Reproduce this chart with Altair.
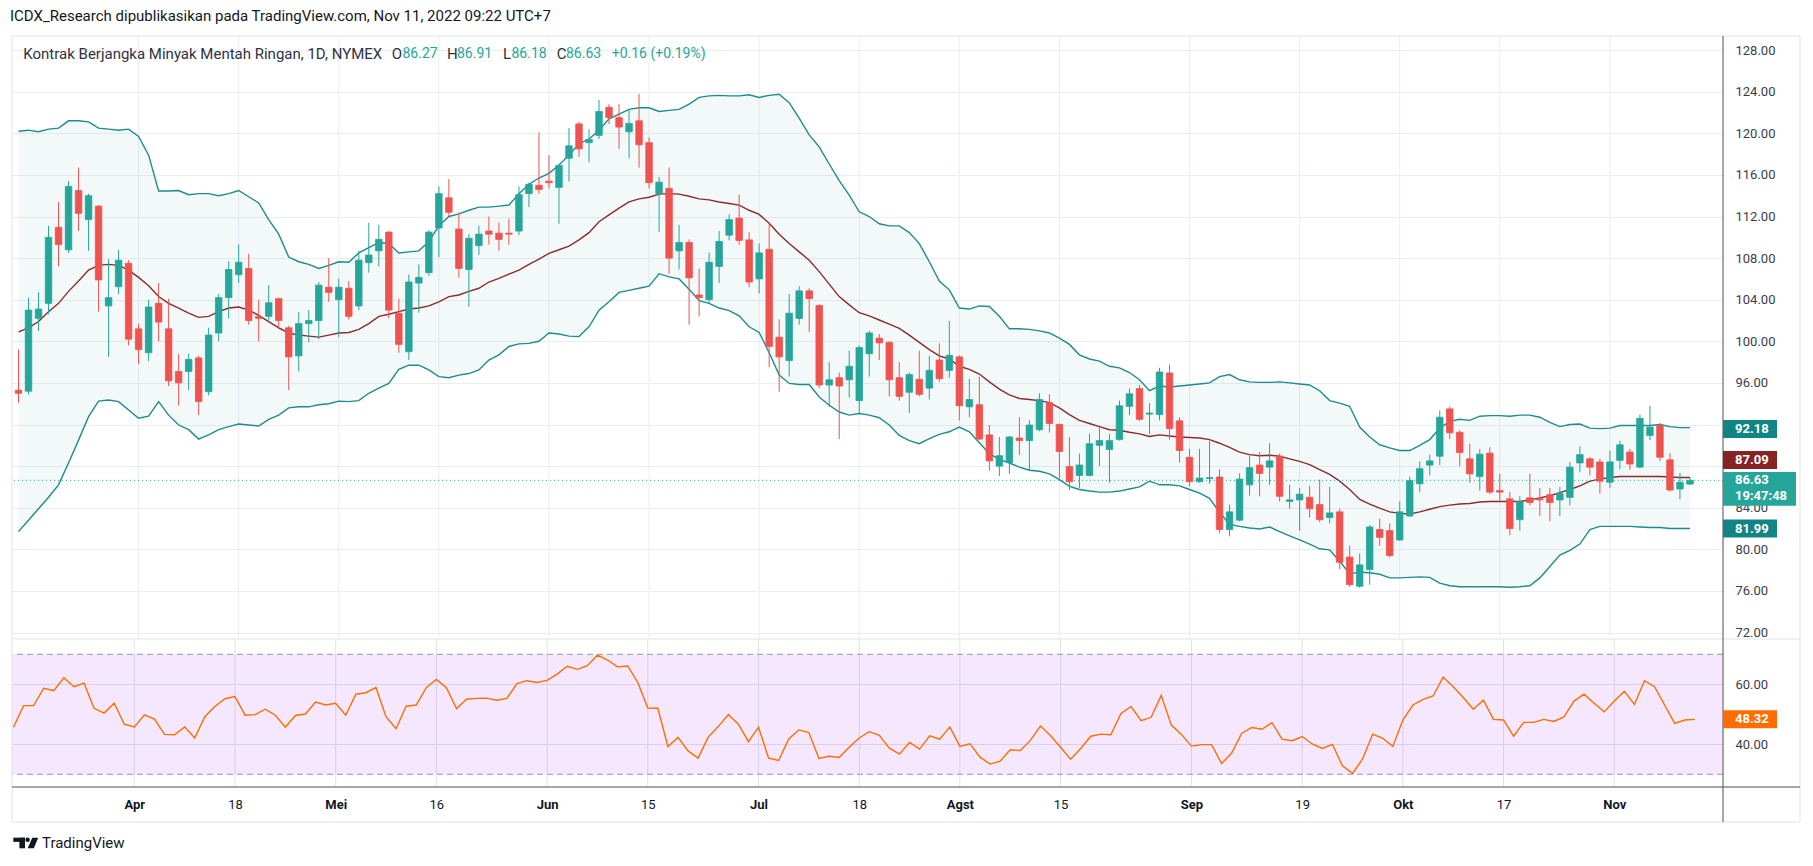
import json
import altair as alt
import pandas as pd

# ---------------- data ----------------
# bar number: 0 = 1 Apr 2022, one step per trading day (16 Mar .. 11 Nov 2022)
bar = list(range(-12, 156))

open_ = [
    95.3, 95.2, 102.2, 103.65, 110.96, 108.8, 114.5, 111.7, 113.0, 103.4,
    105.25, 107.5, 101.2, 98.9, 103.65, 101.2, 97.1, 97.1, 98.4, 95.15,
    100.8, 104.2, 106.4, 107.0, 102.4, 102.4, 104.1, 101.3, 98.6, 101.7,
    102.0, 105.2, 104.0, 105.1, 103.4, 107.56, 108.7, 110.5, 102.7, 99.0,
    105.6, 106.6, 110.9, 113.8, 110.8, 106.9, 109.2, 110.6, 110.4, 110.4,
    110.6, 114.2, 115.0, 115.4, 114.8, 117.6, 120.9, 119.1, 119.8, 122.5,
    121.5, 120.15, 121.2, 119.1, 114.2, 114.7, 108.7, 109.5, 104.45, 104.0,
    107.2, 110.2, 111.85, 109.75, 106.0, 108.85, 100.4, 98.15, 102.2, 104.85,
    103.45, 95.8, 96.5, 96.3, 94.3, 98.8, 100.3, 99.9, 96.5, 95.1,
    96.35, 95.5, 98.2, 97.2, 98.5, 93.7, 93.9, 91.0, 88.0, 88.35,
    90.7, 90.45, 91.5, 94.1, 92.0, 87.95, 87.1, 87.1, 90.0, 89.6,
    90.55, 93.75, 95.45, 93.0, 92.95, 96.95, 92.35, 88.85, 86.5, 86.8,
    86.95, 81.9, 82.8, 86.2, 88.1, 87.9, 88.95, 84.6, 84.75, 85.0,
    84.3, 83.05, 83.6, 79.25, 76.45, 78.05, 81.9, 81.8, 80.9, 83.2,
    86.3, 88.1, 88.95, 93.5, 91.25, 88.7, 87.0, 89.25, 85.65, 84.85,
    82.85, 84.95, 84.85, 85.25, 84.75, 85.0, 88.3, 88.7, 88.4, 86.45,
    88.55, 89.35, 87.9, 90.95, 91.9, 88.6, 85.8, 86.27,
]
high = [
    99.2, 104.2, 104.7, 111.1, 113.4, 115.4, 116.7, 114.2, 113.1, 107.9,
    108.8, 107.8, 101.7, 104.0, 105.6, 104.1, 98.8, 98.8, 98.6, 101.3,
    104.55, 107.7, 109.3, 108.4, 104.0, 105.4, 104.2, 101.5, 102.8, 103.0,
    105.7, 108.0, 106.0, 105.8, 108.7, 111.4, 111.2, 110.6, 104.1, 106.4,
    107.4, 110.7, 114.9, 115.6, 112.4, 110.3, 111.1, 112.0, 111.4, 111.8,
    114.9, 115.25, 120.1, 117.9, 117.0, 120.5, 121.1, 120.4, 123.2, 122.8,
    122.8, 122.3, 123.8, 119.6, 115.8, 116.7, 111.2, 109.8, 107.0, 108.55,
    110.6, 112.2, 114.1, 110.5, 109.4, 111.4, 102.1, 104.55, 105.3, 105.1,
    103.55, 98.0, 97.0, 99.1, 99.6, 101.0, 100.7, 100.0, 98.0, 97.0,
    99.1, 98.6, 99.8, 101.95, 98.65, 96.4, 96.6, 91.95, 90.8, 90.9,
    92.7, 92.4, 95.0, 94.9, 92.1, 90.8, 89.2, 91.1, 91.7, 91.1,
    94.3, 95.45, 95.8, 94.05, 97.45, 97.75, 92.7, 89.65, 89.65, 90.4,
    87.7, 84.3, 87.3, 89.1, 89.35, 90.2, 89.2, 86.2, 85.9, 86.1,
    86.7, 86.0, 83.9, 80.35, 79.6, 82.35, 82.95, 82.5, 84.6, 87.0,
    88.45, 89.1, 93.35, 93.75, 91.45, 90.15, 89.65, 89.8, 87.25, 85.5,
    85.1, 87.25, 85.9, 85.9, 86.0, 88.4, 89.9, 88.85, 88.7, 89.5,
    90.45, 89.65, 92.95, 93.8, 92.15, 89.25, 87.35, 86.91,
]
low = [
    94.1, 94.9, 101.0, 102.6, 107.2, 108.5, 110.6, 108.7, 102.85, 98.5,
    104.55, 99.6, 97.8, 98.1, 100.0, 95.7, 93.8, 95.3, 92.9, 94.8,
    100.0, 102.2, 105.6, 101.6, 100.0, 102.0, 101.15, 95.3, 97.1, 99.9,
    100.2, 103.8, 100.4, 102.1, 103.0, 106.6, 107.2, 102.2, 98.9, 98.2,
    102.75, 106.3, 108.1, 111.9, 106.1, 103.3, 108.3, 109.3, 108.7, 109.3,
    110.2, 112.9, 114.2, 114.7, 111.3, 115.35, 117.75, 117.2, 119.45, 120.9,
    118.5, 117.6, 116.7, 114.7, 110.5, 106.5, 106.9, 101.6, 102.4, 103.7,
    105.6, 109.7, 109.3, 105.2, 104.6, 97.5, 95.15, 96.6, 101.6, 100.9,
    95.5, 93.7, 90.6, 94.6, 93.1, 96.6, 98.2, 94.7, 94.3, 93.1,
    94.7, 94.4, 96.1, 96.5, 92.4, 92.7, 90.5, 87.55, 87.05, 87.25,
    89.05, 87.6, 91.35, 91.25, 86.85, 85.7, 85.9, 87.0, 88.0, 86.4,
    90.45, 92.9, 92.35, 91.1, 92.4, 90.55, 88.35, 86.05, 86.4, 86.3,
    81.55, 81.25, 82.7, 85.15, 85.1, 86.2, 84.6, 83.9, 81.8, 83.05,
    82.6, 82.5, 78.1, 76.4, 76.3, 76.6, 80.35, 79.2, 80.8, 83.1,
    85.5, 87.1, 88.1, 90.6, 88.0, 86.4, 85.65, 85.3, 84.6, 81.35,
    81.8, 84.2, 83.2, 82.7, 83.2, 84.2, 87.4, 87.1, 85.35, 85.9,
    87.7, 87.65, 87.8, 90.5, 88.5, 85.55, 84.8, 86.18,
]
close = [
    95.0, 103.0, 103.1, 110.0, 109.3, 114.9, 112.3, 114.0, 105.9, 104.2,
    107.8, 100.2, 99.2, 103.3, 101.85, 96.2, 96.0, 98.26, 94.2, 100.6,
    104.2, 106.9, 107.6, 102.0, 102.2, 103.7, 102.0, 98.5, 101.7, 102.0,
    105.4, 104.7, 105.2, 102.4, 107.8, 108.3, 109.8, 103.0, 99.7, 105.7,
    106.15, 110.5, 114.2, 112.4, 107.0, 109.9, 110.3, 110.3, 109.8, 110.3,
    114.1, 115.1, 114.6, 115.25, 116.9, 118.8, 118.5, 119.4, 122.1, 121.5,
    120.6, 120.95, 118.9, 115.25, 115.3, 108.0, 109.5, 106.1, 104.2, 107.6,
    109.6, 111.7, 109.7, 105.7, 108.5, 99.5, 98.5, 102.7, 104.85, 104.1,
    95.8, 96.3, 95.7, 97.6, 99.4, 100.8, 99.85, 96.3, 94.7, 96.8,
    94.9, 97.2, 96.4, 98.65, 93.8, 94.4, 90.6, 88.5, 89.0, 90.8,
    90.45, 91.95, 94.4, 92.1, 89.4, 86.5, 88.1, 90.15, 90.45, 90.45,
    93.8, 94.95, 92.5, 93.1, 97.05, 91.6, 89.5, 86.5, 86.85, 86.9,
    81.9, 83.6, 86.75, 87.85, 87.3, 88.5, 85.1, 84.75, 85.3, 83.9,
    82.85, 83.5, 78.75, 76.6, 78.5, 82.15, 81.15, 79.4, 83.6, 86.6,
    87.75, 88.5, 92.7, 91.2, 89.3, 87.25, 89.15, 85.5, 85.5, 82.0,
    84.6, 84.5, 84.75, 84.5, 85.35, 87.9, 89.1, 87.9, 86.55, 88.4,
    90.05, 88.2, 92.6, 91.75, 88.85, 85.7, 86.45, 86.63,
]
bb_upper = [
    120.2, 120.3, 120.15, 120.4, 120.5, 121.2, 121.2, 121.1, 120.5, 120.4,
    120.3, 120.4, 119.7, 117.9, 114.45, 114.45, 114.5, 114.1, 114.2, 114.2,
    114.0, 114.2, 114.5, 113.9, 113.3, 111.7, 110.3, 108.1, 107.65, 107.4,
    107.0, 107.3, 107.65, 107.6, 108.5, 109.0, 109.5, 109.4, 108.5, 108.6,
    108.7, 109.6, 111.1, 112.0, 112.25, 112.6, 112.9, 112.9, 113.0, 113.1,
    114.2, 115.1, 115.7, 116.15, 116.95, 117.9, 119.0, 119.45, 120.3, 121.4,
    121.85, 122.3, 122.45, 122.45, 122.1, 122.2, 122.3, 122.8, 123.45, 123.6,
    123.65, 123.6, 123.6, 123.7, 123.45, 123.65, 123.75, 122.95, 121.45, 119.85,
    118.7, 117.05, 115.45, 114.05, 112.45, 112.0, 111.3, 111.1, 111.1, 110.45,
    109.4, 107.65, 105.8, 104.95, 103.2, 103.1, 103.4, 103.35, 102.4, 101.2,
    101.2, 101.15, 101.0, 100.8, 100.3, 99.7, 98.7, 98.3, 98.1, 97.6,
    97.45, 97.0, 96.3, 95.25, 95.7, 95.6, 95.7, 95.8, 95.9, 96.0,
    96.6, 96.8, 96.3, 96.1, 96.05, 96.05, 96.1, 96.0, 95.9, 95.8,
    95.25, 94.3, 94.05, 93.75, 91.75, 90.8, 90.05, 89.75, 89.5, 89.5,
    90.0, 90.55, 91.65, 92.3, 92.5, 92.4, 92.8, 92.85, 92.85, 92.8,
    92.9, 92.9, 92.7, 92.2, 91.8, 92.0, 92.05, 91.65, 91.6, 91.65,
    91.9, 91.9, 91.9, 91.9, 92.0, 91.8, 91.7, 91.7,
]
bb_basis = [
    100.9, 101.3, 101.9, 102.85, 103.65, 104.8, 105.8, 106.85, 107.3, 107.4,
    107.3, 106.85, 106.15, 105.35, 104.3, 103.65, 103.2, 102.7, 102.3, 102.4,
    102.85, 103.2, 103.3, 103.0, 102.5, 101.9, 101.3, 100.8, 100.6, 100.5,
    100.4, 100.6, 100.8, 100.85, 101.15, 101.7, 102.4, 102.6, 102.85, 103.1,
    103.2, 103.4, 103.8, 104.3, 104.45, 104.8, 105.1, 105.7, 106.05, 106.45,
    106.85, 107.4, 107.9, 108.45, 108.8, 109.15, 109.75, 110.45, 111.5, 112.15,
    112.8, 113.4, 113.7, 113.85, 114.15, 114.2, 114.15, 113.95, 113.7, 113.6,
    113.4, 113.25, 113.1, 112.6, 112.2, 111.35, 110.3, 109.4, 108.6, 107.8,
    106.7, 105.5, 104.3, 103.5, 102.75, 102.45, 102.05, 101.65, 101.25, 100.6,
    99.9, 99.2, 98.6, 98.3, 97.6, 97.3, 96.85, 96.1, 95.4, 94.85,
    94.5, 94.4, 94.3, 94.1, 93.6, 92.95, 92.4, 92.1, 91.8, 91.5,
    91.45, 91.25, 91.1, 90.85, 91.0, 90.9, 90.8, 90.75, 90.7, 90.55,
    90.2, 89.8, 89.35, 89.1, 89.0, 89.05, 88.95, 88.7, 88.45, 88.15,
    87.65, 87.2, 86.55, 85.75, 84.8, 84.35, 83.95, 83.6, 83.45, 83.4,
    83.6, 83.85, 84.1, 84.25, 84.35, 84.4, 84.55, 84.6, 84.6, 84.6,
    84.6, 84.75, 84.95, 85.15, 85.45, 85.75, 86.1, 86.55, 86.75, 86.9,
    87.0, 87.0, 87.0, 87.0, 87.0, 86.95, 86.9, 86.9,
]
bb_lower = [
    81.7, 82.8, 83.9, 85.0, 86.2, 88.3, 90.5, 92.75, 94.25, 94.35,
    94.2, 93.4, 92.6, 92.8, 94.2, 92.9, 91.95, 91.5, 90.6, 91.0,
    91.5, 91.8, 92.05, 91.95, 91.85, 92.5, 92.9, 93.6, 93.7, 93.7,
    93.9, 94.0, 94.25, 94.2, 94.3, 95.0, 95.5, 95.95, 97.3, 97.7,
    97.7, 97.25, 96.6, 96.5, 96.75, 96.9, 97.25, 98.2, 98.7, 99.5,
    99.75, 99.8, 100.0, 100.8, 100.7, 100.5, 100.45, 101.4, 103.0, 103.8,
    104.7, 104.9, 105.1, 105.3, 106.5, 106.2, 106.0, 105.0, 103.9, 103.65,
    103.2, 102.95, 102.45, 101.4, 100.85, 98.9, 96.75, 95.95, 95.85, 95.85,
    94.65, 93.85, 93.2, 92.9, 93.05, 92.9, 92.65, 91.95, 90.95, 90.45,
    90.15, 90.65, 91.05, 91.3, 91.75, 91.3, 90.25, 89.2, 88.65, 88.3,
    87.9, 87.6, 87.5, 87.25, 86.7, 86.05, 85.75, 85.6, 85.5, 85.5,
    85.6, 85.8, 86.0, 86.55, 86.2, 86.2, 86.1, 85.75, 85.4, 84.9,
    83.55, 82.4, 82.2, 82.05, 81.95, 82.15, 81.7, 81.3, 80.9, 80.5,
    80.05, 79.95, 78.85, 77.65, 77.8, 77.75, 77.6, 77.25, 77.25, 77.3,
    77.35, 77.3, 76.75, 76.5, 76.4, 76.4, 76.4, 76.4, 76.4, 76.35,
    76.4, 76.5, 77.25, 78.35, 79.45, 79.9, 80.5, 81.9, 82.2, 82.2,
    82.2, 82.2, 82.15, 82.1, 82.1, 82.0, 82.0, 82.0,
]
rsi = [
    45.7, 52.9, 52.9, 58.7, 57.9, 62.2, 59.2, 60.4, 52.0, 50.4,
    53.7, 46.7, 45.8, 49.8, 48.4, 43.3, 43.2, 45.8, 42.1, 49.2,
    52.6, 55.2, 55.9, 49.7, 49.9, 51.7, 49.7, 45.7, 49.6, 50.1,
    54.1, 53.1, 53.7, 49.7, 56.7, 57.2, 58.9, 49.2, 45.2, 52.7,
    53.1, 58.9, 61.6, 58.9, 51.9, 55.0, 55.3, 55.4, 54.7, 55.3,
    60.2, 61.2, 60.6, 61.3, 63.4, 66.0, 65.0, 66.2, 69.7, 68.1,
    65.8, 66.1, 60.7, 52.1, 52.0, 39.2, 42.3, 37.8, 35.4, 42.4,
    45.9, 49.9, 46.7, 40.9, 45.7, 35.4, 34.6, 41.8, 44.8, 43.9,
    35.3, 36.0, 35.6, 39.0, 42.1, 44.2, 43.0, 38.7, 36.7, 40.6,
    38.4, 42.8, 41.7, 45.8, 39.3, 40.2, 35.7, 33.4, 34.4, 38.2,
    37.9, 41.3, 46.1, 42.9, 39.0, 35.0, 38.6, 42.7, 43.4, 43.2,
    50.3, 52.6, 47.9, 49.0, 56.3, 46.4, 43.3, 39.4, 39.9, 39.9,
    33.6, 37.1, 43.7, 45.6, 45.0, 47.2, 41.7, 41.2, 42.6, 40.1,
    38.6, 40.0, 32.8, 30.3, 35.1, 43.4, 42.0, 39.3, 48.1, 53.1,
    55.0, 56.1, 62.4, 59.2, 55.6, 51.7, 54.7, 48.3, 48.1, 42.7,
    47.3, 47.3, 48.3, 47.6, 49.1, 54.4, 56.7, 53.7, 50.8, 54.4,
    57.7, 53.3, 61.2, 59.2, 53.1, 47.0, 48.1, 48.32,
]

tick_pos = [0, 10, 20, 30, 41, 51, 62, 72, 82, 92, 105, 116, 126, 136, 147]
tick_lab = ["Apr", "18", "Mei", "16", "Jun", "15", "Jul", "18", "Agst", "15",
            "Sep", "19", "Okt", "17", "Nov"]
month_pos = [0, 20, 41, 62, 82, 105, 126, 147]
price_ticks = [72, 76, 80, 84, 88, 92, 96, 100, 104, 108, 112, 116, 120, 124, 128]
hidden_price_labels = [88, 92]      # covered by the value tags in the picture
rsi_ticks = [40, 60]
rsi_band = [30, 70]

header = "ICDX_Research dipublikasikan pada TradingView.com, Nov 11, 2022 09:22 UTC+7"
symbol = "Kontrak Berjangka Minyak Mentah Ringan, 1D, NYMEX"
change_txt = "+0.16 (+0.19%)"
tag_upper, tag_basis, tag_lower = 92.18, 87.09, 81.99
countdown = "19:47:48"

n = len(bar)
for arr in (open_, high, low, close, bb_upper, bb_basis, bb_lower, rsi):
    assert len(arr) == n, len(arr)

df = pd.DataFrame({"i": bar, "o": open_, "h": high, "l": low, "c": close,
                   "up": bb_upper, "mid": bb_basis, "lo": bb_lower, "rsi": rsi})
df["dir"] = ["up" if c >= o else "down" for o, c in zip(open_, close)]

# ---------------- style ----------------
FONT = "Roboto"
W, PH, RH = 1711, 603, 148
FR = 1788          # right frame edge (pane coords)
FB = 183           # bottom frame edge (rsi pane coords)
GREEN, RED = "#26a69a", "#ef5350"
BAND = "#1f8b8c"
BASIS = "#8b2b2b"
GRID = "#e9eef3"
FRAME = "#e0e3eb"
AXL = "#4a4e59"
TXT = "#131722"
LBL = "#3a3d48"
LEG = "#2f3241"

xs = alt.Scale(domain=[-12.15, 157.8], nice=False, zero=False)
ys = alt.Scale(domain=[71.375, 129.356], nice=False, zero=False)
rs = alt.Scale(domain=[25.767, 75.1], nice=False, zero=False)
dscale = alt.Scale(domain=["up", "down"], range=[GREEN, RED])

price_axis = alt.Axis(orient="right", values=price_ticks, title=None,
                      labelExpr=f"indexof({hidden_price_labels}, datum.value) >= 0 ? '' : format(datum.value, '.2f')",
                      grid=True, gridColor=GRID, domain=False, ticks=False, tickSize=0,
                      labelPadding=12, labelFont=FONT, labelFontSize=13, labelColor=LBL,
                      labelFlush=False, labelOverlap=False)
rsi_axis = alt.Axis(orient="right", values=rsi_ticks, format=".2f", title=None,
                    grid=True, gridColor=FRAME, domain=False, ticks=False, tickSize=0,
                    labelPadding=12, labelFont=FONT, labelFontSize=13, labelColor=LBL,
                    labelFlush=False, labelOverlap=False)
time_axis = alt.Axis(values=tick_pos, title=None, grid=False, domain=False, ticks=False,
                     tickSize=0, labelPadding=17, labelBaseline="middle",
                     labelFont=FONT, labelFontSize=13, labelColor=TXT,
                     labelFlush=False, labelOverlap=False,
                     labelExpr=f"{json.dumps(tick_lab)}[indexof({tick_pos}, datum.value)]",
                     labelFontWeight={"condition": {"test": f"indexof({month_pos}, datum.value) >= 0",
                                                    "value": "bold"}, "value": "normal"})


def PX(f):
    return alt.X(f, type="quantitative", scale=xs, axis=None)


def PY(f):
    return alt.Y(f, type="quantitative", scale=ys, axis=price_axis)


def RX(f):
    return alt.X(f, type="quantitative", scale=xs, axis=time_axis)


def RY(f):
    return alt.Y(f, type="quantitative", scale=rs, axis=rsi_axis)


DUMMY = pd.DataFrame({"k": [0]})


def hrule(y, x1, x2, color, w=1):
    return alt.Chart(DUMMY).mark_rule(color=color, strokeWidth=w).encode(
        x=alt.value(x1), x2=alt.value(x2), y=alt.value(y))


def vrule(x, y1, y2, color, w=1):
    return alt.Chart(DUMMY).mark_rule(color=color, strokeWidth=w).encode(
        x=alt.value(x), y=alt.value(y1), y2=alt.value(y2))


def box(x1, x2, y1, y2, color):
    return alt.Chart(DUMMY).mark_rect(color=color).encode(
        x=alt.value(x1), x2=alt.value(x2), y=alt.value(y1), y2=alt.value(y2))


def txt(s, x, y, size=15, color=TXT, weight="normal", font=FONT):
    return alt.Chart(pd.DataFrame({"t": [s]})).mark_text(
        align="left", baseline="middle", font=font, fontSize=size, color=color,
        fontWeight=weight).encode(x=alt.value(x), y=alt.value(y), text="t:N")


def tag(v, bg, box_top, box_bottom, x2, Y, label_dy=0.0):
    """Coloured price tag on the right scale, tied to the value v."""
    d = pd.DataFrame({"v": [v]})
    rect = alt.Chart(d).mark_rect(color=bg, yOffset=box_top, y2Offset=box_bottom).encode(
        x=alt.value(W), x2=alt.value(x2), y=Y("v"), y2=alt.Y2("v"))
    label = alt.Chart(d).mark_text(align="left", baseline="middle", dy=label_dy, color="white",
                                   font=FONT, fontSize=13, fontWeight="bold").encode(
        x=alt.value(W + 12), y=Y("v"), text=alt.Text("v:Q", format=".2f"))
    return [rect, label]


base = alt.Chart(df)
ticks_df = pd.DataFrame({"t": tick_pos})

# ---------------- price pane ----------------
p_layers = [
    alt.Chart(ticks_df).mark_rule(color=GRID, strokeWidth=1).encode(x=PX("t")),
    base.mark_area(color=BAND, opacity=0.055, clip=True).encode(x=PX("i"), y=PY("lo"), y2=alt.Y2("up")),
    base.mark_line(color=BAND, strokeWidth=1.4, clip=True).encode(x=PX("i"), y=PY("up")),
    base.mark_line(color=BAND, strokeWidth=1.4, clip=True).encode(x=PX("i"), y=PY("lo")),
    base.mark_line(color=BASIS, strokeWidth=1.4, clip=True).encode(x=PX("i"), y=PY("mid")),
    alt.Chart(pd.DataFrame({"p": [close[-1]]})).mark_rule(
        color=GREEN, strokeDash=[1, 3], strokeWidth=1).encode(y=PY("p")),
    base.mark_rule(strokeWidth=1, clip=True).encode(
        x=PX("i"), y=PY("l"), y2=alt.Y2("h"),
        color=alt.Color("dir:N", scale=dscale, legend=None)),
    base.mark_bar(size=6.5, strokeWidth=0.8, clip=True).encode(
        x=PX("i"), y=PY("o"), y2=alt.Y2("c"),
        color=alt.Color("dir:N", scale=dscale, legend=None),
        stroke=alt.Stroke("dir:N", scale=dscale, legend=None)),
    # frame
    hrule(0, 0, FR, FRAME), vrule(0, 0, PH, FRAME), vrule(FR, 0, PH, FRAME),
    hrule(PH, 0, FR, FRAME), vrule(W, 0, PH, AXL),
    # header and legend
    txt(header, -2, -20, 15, TXT),
    txt(symbol, 11.3, 18, 15, LEG),
    txt("O", 379.7, 18, 15, LEG), txt(f"{open_[-1]:.2f}", 390.5, 18, 14, GREEN),
    txt("H", 435, 18, 15, LEG), txt(f"{high[-1]:.2f}", 445, 18, 14, GREEN),
    txt("L", 491, 18, 15, LEG), txt(f"{low[-1]:.2f}", 499.5, 18, 14, GREEN),
    txt("C", 544.7, 18, 15, LEG), txt(f"{close[-1]:.2f}", 554, 18, 14, GREEN),
    txt(change_txt, 599.7, 18, 14, GREEN),
]
p_layers += tag(tag_upper, "#138484", -2.6, 15.4, W + 54, PY, 6.4)
p_layers += tag(tag_basis, "#872323", -24.6, -6.6, W + 54, PY, -15.6)
p_layers += tag(close[-1], GREEN, -8.4, 25.4, W + 73, PY, 0)
p_layers += [alt.Chart(pd.DataFrame({"v": [close[-1]], "t": [countdown]})).mark_text(
    align="left", baseline="middle", dy=15.5, color="white", font=FONT, fontSize=13,
    fontWeight="bold").encode(x=alt.value(W + 12), y=PY("v"), text="t:N")]
p_layers += tag(tag_lower, "#138484", -9, 9, W + 54, PY, 0)

price = alt.layer(*p_layers).properties(width=W, height=PH)

# ---------------- RSI pane ----------------
logo_slash = alt.Chart(DUMMY).mark_point(
    shape="M -0.15 -1 L 1 -1 L 0.15 1 L -1 1 Z", filled=True, size=110, color=TXT,
    opacity=1, strokeWidth=0).encode(x=alt.value(21), y=alt.value(204))
logo_dot = alt.Chart(DUMMY).mark_point(
    shape="circle", filled=True, size=20, color=TXT, opacity=1, strokeWidth=0).encode(
    x=alt.value(15.6), y=alt.value(200.8))

r_layers = [
    alt.Chart(ticks_df).mark_rule(color=FRAME, strokeWidth=1).encode(x=RX("t")),
    alt.Chart(pd.DataFrame({"a": [rsi_band[0]], "b": [rsi_band[1]]})).mark_rect(
        color="#a020f0", opacity=0.11).encode(x=alt.value(0), x2=alt.value(W), y=RY("a"), y2=alt.Y2("b")),
    alt.Chart(pd.DataFrame({"v": rsi_band})).mark_rule(
        color="#9a97a3", strokeDash=[6, 4], strokeWidth=1).encode(y=RY("v")),
    base.mark_line(color="#ff6d00", strokeWidth=1.4, clip=True).encode(x=RX("i"), y=RY("rsi")),
    vrule(0, 0, FB, FRAME), vrule(FR, 0, FB, FRAME), hrule(FB, 0, FR, FRAME),
    vrule(W, 0, FB, AXL), hrule(RH, 0, FR, AXL),
    # TradingView logo and wordmark
    box(1.3, 13, 198.7, 202.9, TXT), box(7.4, 13, 198.7, 209.3, TXT),
    logo_dot, logo_slash,
    txt("TradingView", 30, 204, 15, TXT),
]
r_layers += tag(rsi[-1], "#ff6d00", -9, 9, W + 54, RY, 0)

rsi_chart = alt.layer(*r_layers).properties(width=W, height=RH)

chart = alt.vconcat(price, rsi_chart, spacing=0, bounds="flush").properties(
    padding={"left": 2, "top": 1, "right": 4, "bottom": 4},
    background="white",
).configure_view(strokeWidth=0)

chart.save("out.html", embed_options={"renderer": "svg", "actions": False})
